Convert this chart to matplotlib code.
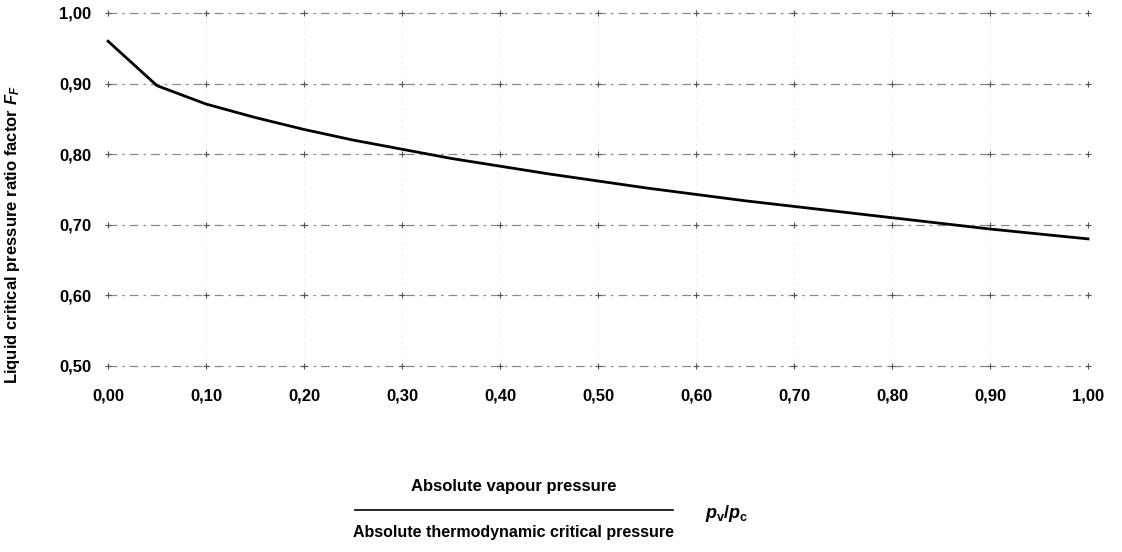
import matplotlib
matplotlib.use("Agg")
import matplotlib.pyplot as plt
import numpy as np

# pv/pc ratio and liquid critical pressure ratio factor FF
ratio = [0.00, 0.05, 0.10, 0.15, 0.20, 0.25, 0.30, 0.35, 0.40, 0.45, 0.50,
         0.55, 0.60, 0.65, 0.70, 0.75, 0.80, 0.85, 0.90, 0.95, 1.00]
ff = [0.960, 0.897, 0.871, 0.852, 0.835, 0.820, 0.807, 0.794, 0.783, 0.772, 0.762,
      0.752, 0.743, 0.734, 0.726, 0.718, 0.710, 0.702, 0.694, 0.687, 0.680]

x_ticks = [0.0, 0.1, 0.2, 0.3, 0.4, 0.5, 0.6, 0.7, 0.8, 0.9, 1.0]
y_ticks = [0.5, 0.6, 0.7, 0.8, 0.9, 1.0]

plt.rcParams['font.family'] = ['Liberation Sans', 'DejaVu Sans']
plt.rcParams['mathtext.fontset'] = 'custom'
plt.rcParams['mathtext.it'] = 'Liberation Sans:italic:bold'
plt.rcParams['mathtext.rm'] = 'Liberation Sans:bold'

fig = plt.figure(figsize=(11.22, 5.52), dpi=100)
ax = fig.add_axes([0.0963, 0.337, 0.8734, 0.6395])
ax.set_xlim(0, 1)
ax.set_ylim(0.5, 1.0)

for s in ax.spines.values():
    s.set_visible(False)

# dashed horizontal grid, faint dotted verticals
for y in y_ticks:
    ax.axhline(y, color='#8a8a8a', lw=0.9, ls=(0, (7, 4, 2, 4)), zorder=1, clip_on=False)
for x in x_ticks[1:]:
    ax.axvline(x, color='#cccccc', lw=0.6, ls=(0, (1, 6)), zorder=1)

# small crosses at grid intersections
gx, gy = np.meshgrid(x_ticks, y_ticks)
ax.scatter(gx.ravel(), gy.ravel(), marker='+', s=14, color='#555555', lw=0.8, zorder=2, clip_on=False)

ax.plot(ratio, ff, color='black', lw=2.0, zorder=3, clip_on=False)

ax.set_xticks(x_ticks)
ax.set_yticks(y_ticks)
ax.set_xticklabels([f"{v:.2f}".replace('.', ',') for v in x_ticks], fontsize=12, fontweight='bold')
ax.set_yticklabels([f"{v:.2f}".replace('.', ',') for v in y_ticks], fontsize=12, fontweight='bold')
ax.tick_params(axis='x', length=0, pad=16)
ax.tick_params(axis='y', length=0, pad=12)

fig.text(0.011, 1 - 235 / 552, r"Liquid critical pressure ratio factor $F_F$", rotation=90,
         ha='center', va='center', fontsize=12, fontweight='bold')

# fraction defining the abscissa
fig.text(0.458, 1 - 487 / 552, "Absolute vapour pressure", ha='center', va='center',
         fontsize=12, fontweight='bold')
fig.text(0.458, 1 - 533 / 552, "Absolute thermodynamic critical pressure", ha='center', va='center',
         fontsize=11.5, fontweight='bold')
fig.add_artist(plt.Line2D([355 / 1122, 673 / 1122], [1 - 510 / 552, 1 - 510 / 552],
                          color='black', lw=1.2))
fig.text(0.628, 1 - 514 / 552, r"$p_\mathrm{v}/p_\mathrm{c}$", ha='left', va='center', fontsize=13)

fig.savefig("out.png", dpi=100)
